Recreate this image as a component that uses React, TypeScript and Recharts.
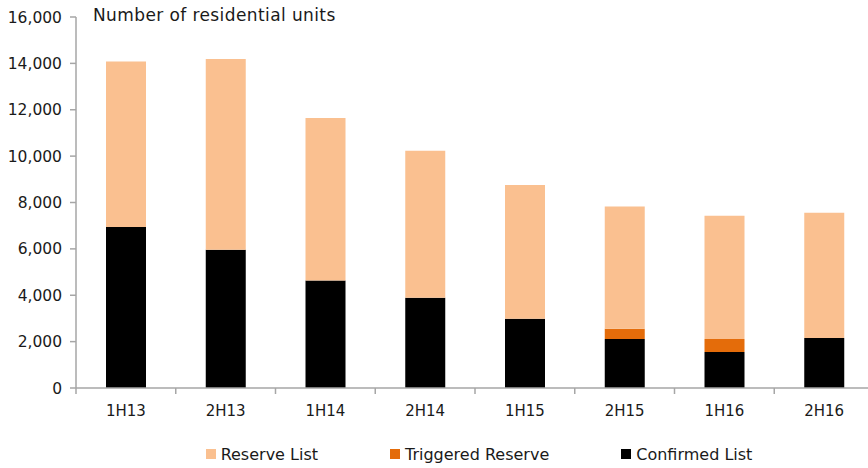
import React from 'react';
import { BarChart, Bar, XAxis, YAxis, Legend } from 'recharts';

const categories = ['1H13', '2H13', '1H14', '2H14', '1H15', '2H15', '1H16', '2H16'];
const confirmedList = [6940, 5960, 4640, 3890, 2990, 2110, 1550, 2160];
const triggeredReserve = [0, 0, 0, 0, 0, 445, 560, 0];
const reserveList = [7140, 8230, 7000, 6340, 5770, 5275, 5320, 5400];
const yTicks = [0, 2000, 4000, 6000, 8000, 10000, 12000, 14000, 16000];
const boundaryTicks = [0, 1, 2, 3, 4, 5, 6, 7, 8];

const data = categories.map((c, i) => ({
  name: c,
  idx: i,
  confirmed: confirmedList[i],
  triggered: triggeredReserve[i],
  reserve: reserveList[i],
}));

const FONT = '"DejaVu Sans", Verdana, sans-serif';
const AXIS = '#a6a6a6';
const TEXT = '#1a1a1a';

const legendItems = [
  { label: 'Reserve List', color: '#FAC090' },
  { label: 'Triggered Reserve', color: '#E46C0A' },
  { label: 'Confirmed List', color: '#000000' },
];

const LegendContent = () => (
  <div
    style={{
      display: 'flex',
      justifyContent: 'center',
      alignItems: 'center',
      height: 28,
      gap: 72,
      paddingLeft: 74,
      fontFamily: FONT,
      fontSize: 16,
      color: TEXT,
    }}
  >
    {legendItems.map((it) => (
      <div key={it.label} style={{ display: 'flex', alignItems: 'center' }}>
        <span style={{ display: 'inline-block', width: 10, height: 10, background: it.color, marginRight: 5 }} />
        <span>{it.label}</span>
      </div>
    ))}
  </div>
);

export default function App() {
  return (
    <div style={{ position: 'absolute', left: 0, top: 0, width: 868, height: 468, overflow: 'hidden', background: '#fff' }}>
      <div
        style={{
          position: 'absolute',
          left: 93,
          top: 5,
          fontFamily: FONT,
          fontSize: 17,
          letterSpacing: 0.4,
          color: TEXT,
          whiteSpace: 'nowrap',
          zIndex: 2,
        }}
      >
        Number of residential units
      </div>
      <BarChart
        width={884}
        height={468}
        data={data}
        margin={{ top: 17, right: 10, bottom: 0, left: 10 }}
        barSize={40}
      >
        <XAxis
          xAxisId="a"
          dataKey="idx"
          type="number"
          domain={[0, 8]}
          ticks={boundaryTicks}
          height={1}
          tickSize={6}
          axisLine={{ stroke: AXIS, strokeWidth: 1.5 }}
          tickLine={{ stroke: AXIS, strokeWidth: 1.5 }}
          tick={{ fontSize: 1, fill: 'transparent' }}
          tickFormatter={() => ''}
          allowDataOverflow
          interval={0}
        />
        <XAxis
          xAxisId="b"
          dataKey="name"
          height={51}
          axisLine={false}
          tickLine={false}
          tickSize={6}
          tickMargin={10}
          tick={{ fill: TEXT, fontSize: 15, fontFamily: FONT }}
          interval={0}
        />
        <YAxis
          width={66}
          domain={[0, 16000]}
          ticks={yTicks}
          tickSize={6}
          tickMargin={8}
          axisLine={{ stroke: AXIS, strokeWidth: 1.5 }}
          tickLine={{ stroke: AXIS, strokeWidth: 1.5 }}
          tick={{ fill: TEXT, fontSize: 15.5, fontFamily: FONT }}
          tickFormatter={(v: number) => v.toLocaleString('en-US')}
          interval={0}
        />
        <Legend verticalAlign="bottom" content={<LegendContent />} />
        <Bar xAxisId="b" dataKey="confirmed" stackId="a" fill="#000000" isAnimationActive={false} />
        <Bar xAxisId="b" dataKey="triggered" stackId="a" fill="#E46C0A" isAnimationActive={false} />
        <Bar xAxisId="b" dataKey="reserve" stackId="a" fill="#FAC090" isAnimationActive={false} />
      </BarChart>
    </div>
  );
}
